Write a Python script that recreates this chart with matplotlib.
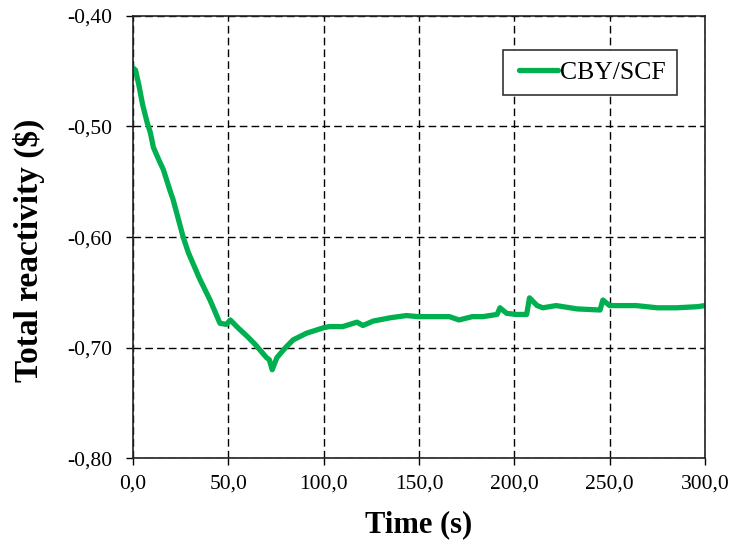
import matplotlib
matplotlib.use("Agg")
import matplotlib.pyplot as plt
from matplotlib.ticker import FuncFormatter, MultipleLocator
from matplotlib.legend_handler import HandlerLine2D

time_s = [0.0, 1.3, 3.0, 5.0, 7.5, 9.0, 10.7, 14.0, 15.9, 19.4, 21.0, 26.3, 29.0,
          35.0, 40.4, 45.6, 49.0, 51.0, 55.0, 60.0, 64.0, 68.0, 70.0, 71.5, 73.0,
          75.5, 80.0, 84.0, 91.0, 100.0, 103.0, 110.0, 117.5, 120.6, 126.0, 135.0,
          143.5, 149.5, 156.0, 166.0, 171.0, 178.0, 183.5, 191.0, 192.5, 196.0,
          201.0, 206.5, 208.0, 212.0, 215.0, 222.0, 233.0, 245.0, 246.5, 250.0,
          264.0, 275.0, 285.0, 296.0, 300.0]
reactivity = [-0.447, -0.449, -0.462, -0.480, -0.497, -0.505, -0.519, -0.532,
              -0.539, -0.558, -0.566, -0.600, -0.614, -0.638, -0.657, -0.678,
              -0.679, -0.675, -0.682, -0.690, -0.697, -0.705, -0.709, -0.711,
              -0.720, -0.709, -0.700, -0.693, -0.687, -0.682, -0.681, -0.681,
              -0.677, -0.680, -0.676, -0.673, -0.671, -0.672, -0.672, -0.672,
              -0.675, -0.672, -0.672, -0.670, -0.664, -0.669, -0.670, -0.670,
              -0.655, -0.662, -0.664, -0.662, -0.665, -0.666, -0.657, -0.662,
              -0.662, -0.664, -0.664, -0.663, -0.662]
series_label = "CBY/SCF"

plt.rcParams['font.family'] = ['Liberation Serif', 'DejaVu Serif']


class InsetLineHandler(HandlerLine2D):
    def get_xdata(self, legend, xdescent, ydescent, width, height, fontsize):
        x0 = -xdescent + 0.2 * fontsize
        x1 = -xdescent + width
        return [x0, x1], [x0, x1]


fig = plt.figure(figsize=(7.35, 5.5), dpi=100)
ax = fig.add_axes([0.181, 0.167, 0.778, 0.804])

line, = ax.plot(time_s, reactivity, color='#00B050', lw=3.8, label=series_label,
                solid_joinstyle='round', solid_capstyle='round')

ax.set_xlim(0, 300)
ax.set_ylim(-0.80, -0.40)
ax.xaxis.set_major_locator(MultipleLocator(50))
ax.yaxis.set_major_locator(MultipleLocator(0.1))
ax.xaxis.set_major_formatter(FuncFormatter(lambda v, p: f"{v:.1f}".replace('.', ',')))
ax.yaxis.set_major_formatter(FuncFormatter(lambda v, p: f"{v:.2f}".replace('.', ',')))

ax.grid(True, color='black', linestyle=(0, (5.5, 3)), linewidth=1.0)
ax.tick_params(direction='out', length=5, width=1, labelsize=15.5, colors='black')
ax.tick_params(axis='y', pad=10)
ax.tick_params(axis='x', pad=7)
for s in ax.spines.values():
    s.set_color('#222222')
    s.set_linewidth(1.2)

ax.set_xlabel('Time (s)', fontsize=22, fontweight='bold', labelpad=12)
ax.set_ylabel('Total reactivity ($)', fontsize=24, fontweight='bold')
ax.yaxis.set_label_coords(-0.154, 0.471)

leg = ax.legend(handles=[line], loc='upper right', bbox_to_anchor=(0.951, 0.923),
                fontsize=18.5, fancybox=False, framealpha=1, edgecolor='#333333',
                handlelength=1.72, handletextpad=0.08, borderpad=0.42,
                borderaxespad=0, handler_map={line: InsetLineHandler()})
leg.get_frame().set_linewidth(1.2)

fig.savefig('out.png', dpi=100)
